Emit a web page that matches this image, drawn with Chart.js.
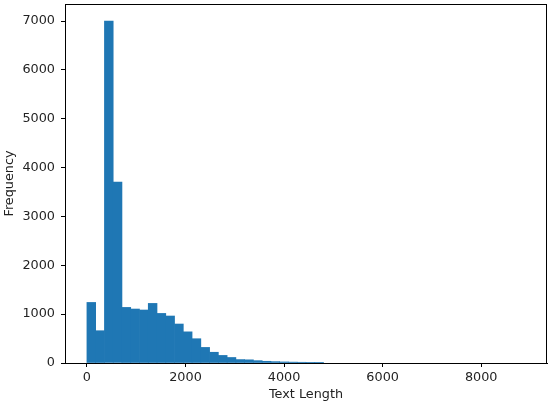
<!DOCTYPE html>
<html>
<head>
<meta charset="utf-8">
<script src="https://cdn.jsdelivr.net/npm/chart.js@4.4.1/dist/chart.umd.min.js"></script>
<style>
    html, body { margin: 0; padding: 0; background: #fff; }
    #wrap { width: 550px; height: 406px; }
</style>
</head>
<body>
<div id="wrap"><canvas id="hist-chart"></canvas></div>
<script>
// histogram: 50 bins between 0 and ~8890
const binWidth = 177.8;
const binCounts = [
    1240, 661, 7000, 3704, 1138, 1105, 1085, 1220, 1015, 962,
    798, 638, 497, 319, 220, 155, 113, 70, 65, 48,
    35, 28, 22, 18, 15, 4, 14, 0, 0, 0,
    0, 0, 0, 0, 0, 0, 0, 0, 0, 0,
    0, 0, 0, 0, 0, 0, 0, 0, 0, 0
];
const xTicks = [0, 2000, 4000, 6000, 8000];
const yTicks = [0, 1000, 2000, 3000, 4000, 5000, 6000, 7000];

let points = binCounts.map((count, i) => ({ x: (i + 0.5) * binWidth, y: count }));

const tickFont = { family: 'DejaVu Sans', size: 12.8 };

// matplotlib style box round the axes
const frameBox = {
    id: 'frameBox',
    afterDraw(chart) {
        let a = chart.chartArea;
        let ctx = chart.ctx;
        ctx.save();
        ctx.strokeStyle = '#000';
        ctx.lineWidth = 1;
        ctx.strokeRect(Math.round(a.left) + 0.5, Math.round(a.top) + 0.5,
            Math.round(a.right - a.left) - 1, Math.round(a.bottom - a.top));
        ctx.restore();
    }
};

new Chart(document.getElementById('hist-chart').getContext('2d'), {
    type: 'bar',
    data: {
        datasets: [{
            label: 'Text Length',
            data: points,
            // empty bins would otherwise show as a hairline on the axis
            backgroundColor: ctx => (ctx.raw && ctx.raw.y > 0) ? '#1f77b4' : 'rgba(0,0,0,0)',
            borderWidth: 0,
            barPercentage: 1,
            categoryPercentage: 1
        }]
    },
    options: {
        responsive: true,
        maintainAspectRatio: false,
        animation: false,
        layout: { padding: { top: 4, right: 3, bottom: 2, left: 0 } },
        plugins: {
            legend: { display: false },
            tooltip: { enabled: false }
        },
        scales: {
            x: {
                type: 'linear',
                offset: false,
                min: -444.5,
                max: 9334.5,
                afterBuildTicks: scale => { scale.ticks = xTicks.map(v => ({ value: v })); },
                afterFit: scale => { scale.height = 41; scale.paddingLeft = 0; scale.paddingRight = 0; },
                grid: { offset: false, drawOnChartArea: false, tickLength: 4, tickColor: '#000' },
                border: { color: '#000' },
                ticks: { font: tickFont, color: '#222', padding: 3, maxRotation: 0, callback: v => String(v) },
                title: { display: true, text: 'Text Length', font: tickFont, color: '#222', padding: { top: 2, bottom: 2 } }
            },
            y: {
                min: 0,
                max: 7350,
                afterBuildTicks: scale => { scale.ticks = yTicks.map(v => ({ value: v })); },
                afterFit: scale => { scale.width = 65; scale.paddingTop = 0; scale.paddingBottom = 0; },
                grid: { drawOnChartArea: false, tickLength: 4, tickColor: '#000' },
                border: { color: '#000' },
                ticks: { font: tickFont, color: '#222', padding: 6, callback: v => String(v) },
                title: { display: true, text: 'Frequency', font: tickFont, color: '#222', padding: { top: 2, bottom: 2 } }
            }
        }
    },
    plugins: [frameBox]
});
</script>
</body>
</html>
